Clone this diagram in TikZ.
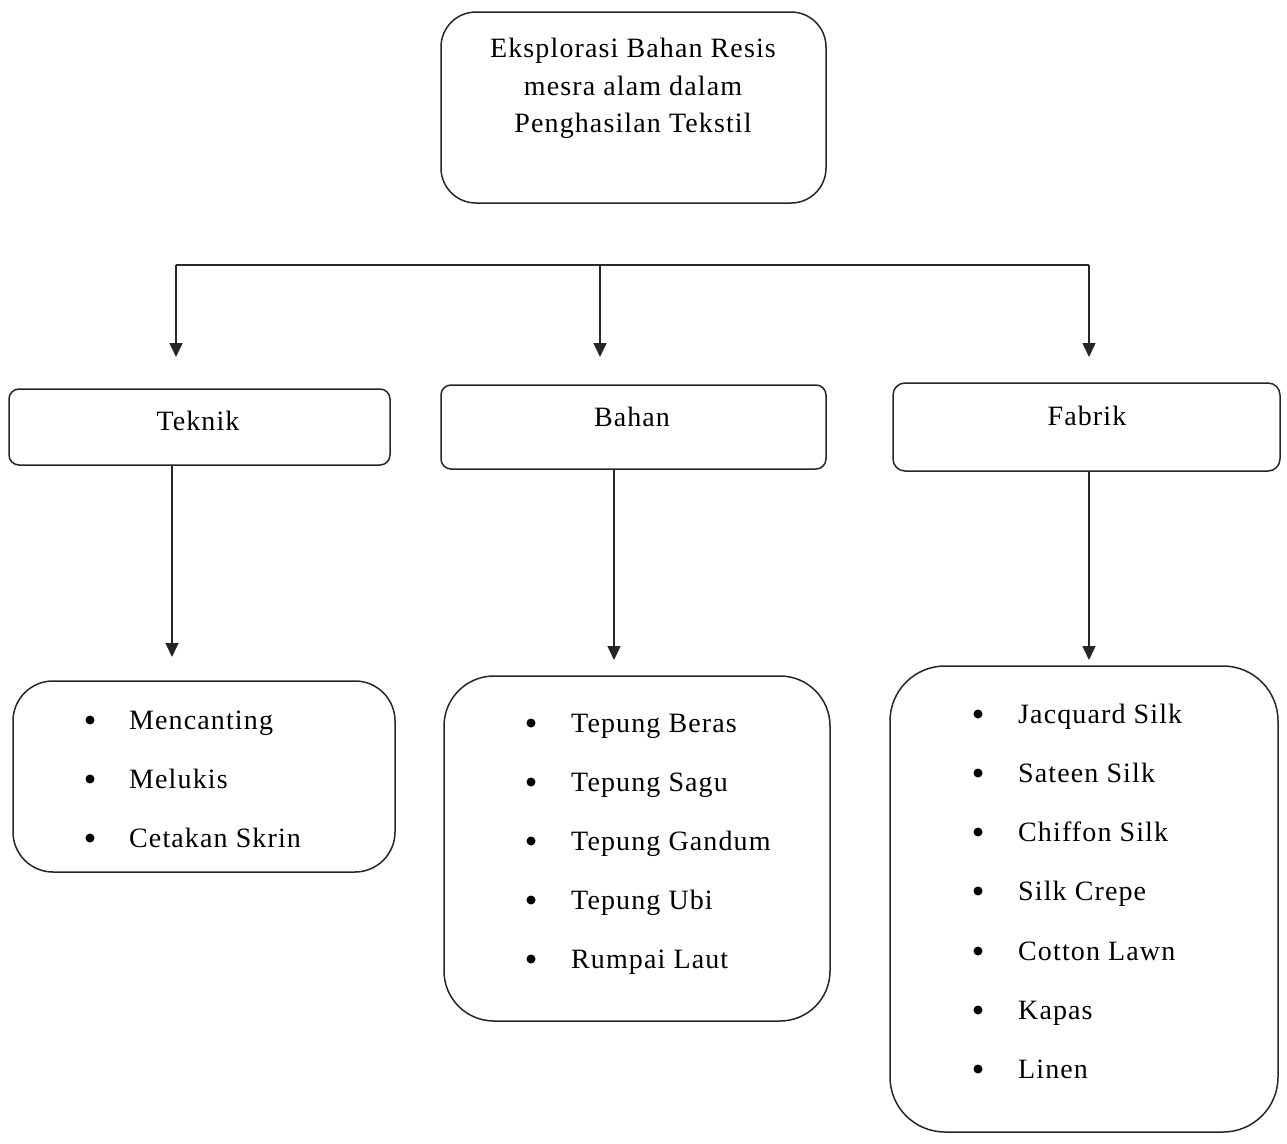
\documentclass[tikz,border=0pt]{standalone}
\usepackage{fontspec}
\setmainfont[LetterSpace=4]{Liberation Serif}
\usetikzlibrary{arrows.meta}
\begin{document}
\begin{tikzpicture}[x=1pt,y=-1pt,
  box/.style={draw=black!85, line width=1.5pt, inner sep=0pt},
  conn/.style={draw=black!85, line width=1.5pt},
  arr/.style={conn, -{Triangle[length=14pt,width=13pt]}},
  lbl/.style={inner sep=0pt, anchor=base, font=\fontsize{28}{38}\selectfont},
  item/.style={inner sep=0pt, anchor=base west, font=\fontsize{28}{38}\selectfont},
  dot/.style={circle, fill=black, inner sep=0pt, minimum size=9pt}]
\useasboundingbox (0,0) rectangle (1287,1143);
% boxes
\node[box, rounded corners=35pt, minimum width=385pt, minimum height=191pt] (top) at (633.5,107.5) {};
\node[box, rounded corners=10pt, minimum width=381pt, minimum height=76pt] (teknik) at (199.5,427) {};
\node[box, rounded corners=10pt, minimum width=385pt, minimum height=84pt] (bahan) at (633.5,427) {};
\node[box, rounded corners=12pt, minimum width=387pt, minimum height=88pt] (fabrik) at (1086.5,427) {};
\node[box, rounded corners=40pt, minimum width=382pt, minimum height=191pt] (tlist) at (204,776.5) {};
\node[box, rounded corners=50pt, minimum width=386pt, minimum height=345pt] (blist) at (637,848.5) {};
\node[box, rounded corners=55pt, minimum width=388pt, minimum height=466pt] (flist) at (1084,899) {};
% texts
\node[lbl] (t1) at (633,57) {Eksplorasi Bahan Resis};
\node[lbl] (t2) at (633,95) {mesra alam dalam};
\node[lbl] (t3) at (633,132) {Penghasilan Tekstil};
\node[lbl] (tk) at (198,430) {Teknik};
\node[lbl] (bh) at (632,426) {Bahan};
\node[lbl] (fb) at (1087,425) {Fabrik};
% teknik list
\foreach \y/\t [count=\i] in {729/Mencanting, 788/Melukis, 847/Cetakan Skrin}{
  \node[dot] (tb\i) at (90,\y-9) {};
  \node[item] (ti\i) at (129,\y) {\t};
}
% bahan list
\foreach \y/\t [count=\i] in {732/Tepung Beras, 791/Tepung Sagu, 850/Tepung Gandum, 909/Tepung Ubi, 968/Rumpai Laut}{
  \node[dot] (bb\i) at (531,\y-9) {};
  \node[item] (bi\i) at (571,\y) {\t};
}
% fabrik list
\foreach \y/\t [count=\i] in {723/Jacquard Silk, 782/Sateen Silk, 841/Chiffon Silk, 900/Silk Crepe, 960/Cotton Lawn, 1019/Kapas, 1078/Linen}{
  \node[dot] (fbb\i) at (978,\y-9) {};
  \node[item] (fi\i) at (1018,\y) {\t};
}
% connectors
\coordinate (hl) at (176,265);
\coordinate (hm) at (600,265);
\coordinate (hr) at (1089,265);
\coordinate (e1) at (176,357);
\coordinate (e2) at (600,357);
\coordinate (e3) at (1089,357);
\draw[conn] (hl) -- (hr);
\draw[arr] (hl) -- (e1);
\draw[arr] (hm) -- (e2);
\draw[arr] (hr) -- (e3);
\coordinate (l1) at (172,657);
\coordinate (l2) at (614,660);
\coordinate (l3) at (1089,660);
\draw[arr] (teknik.south -| l1) -- (l1);
\draw[arr] (bahan.south -| l2) -- (l2);
\draw[arr] (fabrik.south -| l3) -- (l3);
\end{tikzpicture}
\end{document}
